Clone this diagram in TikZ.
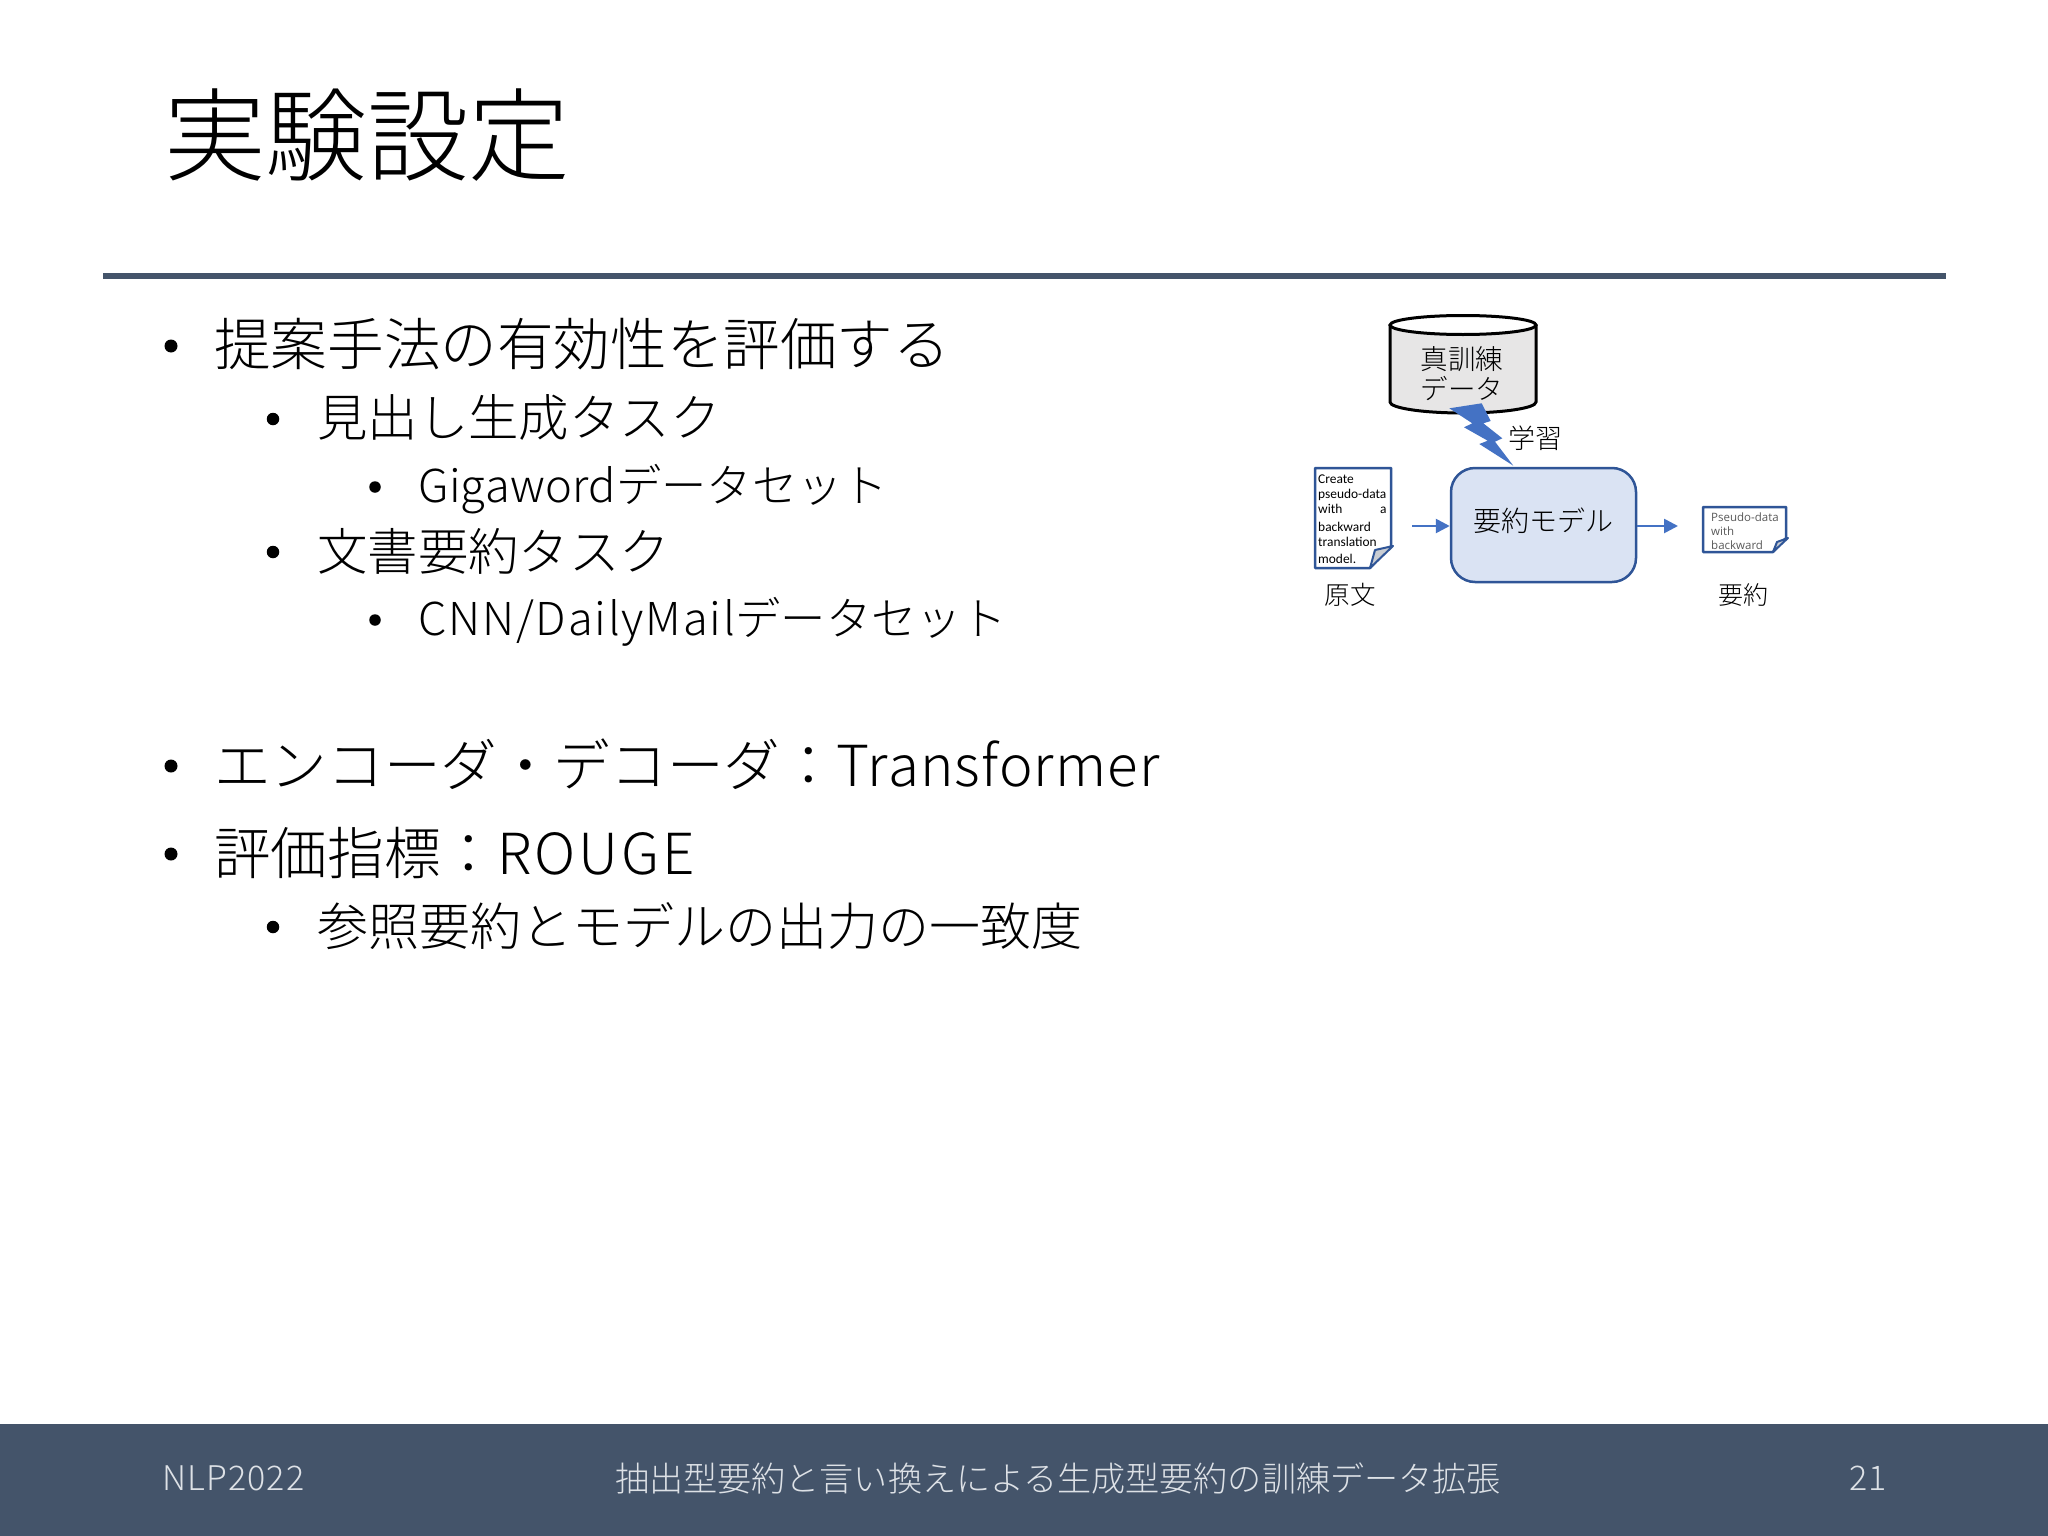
\documentclass[tikz,border=0pt]{standalone}
\usepackage{fontspec}
\setmainfont{Noto Sans CJK JP Light}
\newfontfamily\carl{Carlito}
\newfontfamily\opens{Open Sans}
\newcommand{\lat}[2]{{\addfontfeatures{LetterSpace=#1}#2}}
\usetikzlibrary{arrows.meta,shapes.geometric}
\definecolor{slate}{HTML}{44546A}
\definecolor{accent}{HTML}{4472C4}
\definecolor{edge}{HTML}{2F5597}
\definecolor{modelfill}{HTML}{DAE3F3}
\definecolor{cyl}{HTML}{E7E6E6}
\definecolor{foldgrey}{HTML}{C9CDD3}
\definecolor{foot}{HTML}{DDE1E6}
\tikzset{
  txt/.style={anchor=base west,inner sep=0pt,font=\fontsize{#1}{#1}\selectfont},
  ctr/.style={anchor=center,inner sep=0pt,align=center,font=\fontsize{#1}{30}\selectfont},
  dotb/.style={circle,fill=black,inner sep=0pt,minimum size=#1},
  doc/.style={draw=edge,line width=2.5pt,fill=white,line join=round},
  fold/.style={draw=edge,line width=2pt,fill=foldgrey,line join=round},
  flow/.style={draw=accent,line width=2.6pt,-{Triangle[length=14pt,width=14pt]}},
  smalla/.style={anchor=base west,inner sep=0pt,font=\carl\fontsize{13.4}{13.4}\selectfont},
  smallb/.style={anchor=base west,inner sep=0pt,text=black!65,font=\opens\fontsize{11.5}{11.5}\selectfont},
}
\begin{document}
\begin{tikzpicture}[x=1pt,y=-1pt]
\useasboundingbox (0,0) rectangle (2048,1536);
\fill[white] (0,0) rectangle (2048,1536);
% title and rule
\node[txt=101.5] (title) at (164,174) {実験設定};
\fill[slate] (103,273) rectangle (1946,279);
% bullets
\node[dotb=13pt] (b1) at (171,346) {};
\node[txt=56.6] (t1) at (214,365.5) {提案手法の有効性を評価する};
\node[dotb=12.5pt] (b2) at (273,419) {};
\node[txt=50.4] (t2) at (317,436.5) {見出し生成タスク};
\node[dotb=11.5pt] (b3) at (375,487) {};
\node[txt=45.3] (t3) at (418,502) {\lat{0.7}{Gigaword}データセット};
\node[dotb=12.5pt] (b4) at (273,552) {};
\node[txt=50.4] (t4) at (317,570.5) {文書要約タスク};
\node[dotb=11.5pt] (b5) at (375,620) {};
\node[txt=45.3] (t5) at (418,635) {\lat{4}{CNN/DailyMail}データセット};
\node[dotb=13pt] (b6) at (171,766) {};
\node[txt=56.6] (t6) at (214,786) {エンコーダ・デコーダ：\lat{2.1}{Transformer}};
\node[dotb=13pt] (b7) at (171,854) {};
\node[txt=56.6] (t7) at (214,874.5) {評価指標：\lat{5}{ROUGE}};
\node[dotb=12.5pt] (b8) at (273,927) {};
\node[txt=51] (t8) at (317,945.5) {参照要約とモデルの出力の一致度};
% footer
\fill[slate] (0,1424) rectangle (2048,1536);
\node[txt=34,text=foot] (f1) at (162,1490) {\lat{3.3}{NLP2022}};
\node[ctr=34.1,text=foot] (f2) at (1058,1478) {抽出型要約と言い換えによる生成型要約の訓練データ拡張};
\node[ctr=34,text=foot] (f3) at (1868,1478) {21};
% cylinder
\draw[line width=3pt,fill=cyl] (1390,325) -- (1390,402) arc[start angle=180,end angle=0,x radius=73,y radius=11] -- (1536,325);
\draw[line width=3pt,fill=white] (1463,325) ellipse[x radius=73,y radius=9.5];
\node[ctr=27.5] (cyltext) at (1462,374) {真訓練\\データ};
% lightning
\fill[accent] (1449.3,408.3) -- (1481.7,403.3) -- (1490.7,421) -- (1483.3,423.3) -- (1502.3,438.3) -- (1495,441.7) -- (1513.3,465.7) -- (1479.3,444) -- (1487.7,440.7) -- (1464,427.3) -- (1472.3,423.3) -- cycle;
\node[ctr=27] (learn) at (1535,438) {学習};
% model
\node[draw=edge,line width=2.5pt,fill=modelfill,rounded corners=24pt,minimum width=185pt,minimum height=114pt,inner sep=0pt] (model) at (1543.5,525) {};
\node[ctr=28] (modeltext) at (1543,521) {要約モデル};
% source doc
\draw[doc] (1315,468) -- (1391,468) -- (1391,546) -- (1370,568) -- (1315,568) -- cycle;
\draw[fold] (1370,568) -- (1375,550) -- (1393,546) -- cycle;
\node[smalla] (s1) at (1318,483) {Create};
\node[smalla] (s2) at (1318,498) {pseudo-data};
\node[smalla] (s3) at (1318,513) {with};
\node[smalla] (s3b) at (1380,513) {a};
\node[smalla] (s4) at (1318,531) {backward};
\node[smalla] (s5) at (1318,546) {translation};
\node[smalla] (s6) at (1318,563) {model.};
\node[ctr=25.5] (srclabel) at (1350,595) {原文};
% summary doc
\draw[doc] (1703,507) -- (1786,507) -- (1786,538) -- (1773,552) -- (1703,552) -- cycle;
\draw[fold] (1773,552) -- (1777,542) -- (1788,538) -- cycle;
\node[smallb] (d1) at (1711,521) {Pseudo-data};
\node[smallb] (d2) at (1711,535) {with};
\node[smallb] (d3) at (1711,549) {backward};
\node[ctr=25] (sumlabel) at (1743,595) {要約};
% connectors
\coordinate (srcout) at (1412,526);
\coordinate (sumin) at (1678,526);
\draw[flow] (srcout) -- (model.west |- srcout);
\draw[flow] (model.east |- sumin) -- (sumin);
\end{tikzpicture}
\end{document}
